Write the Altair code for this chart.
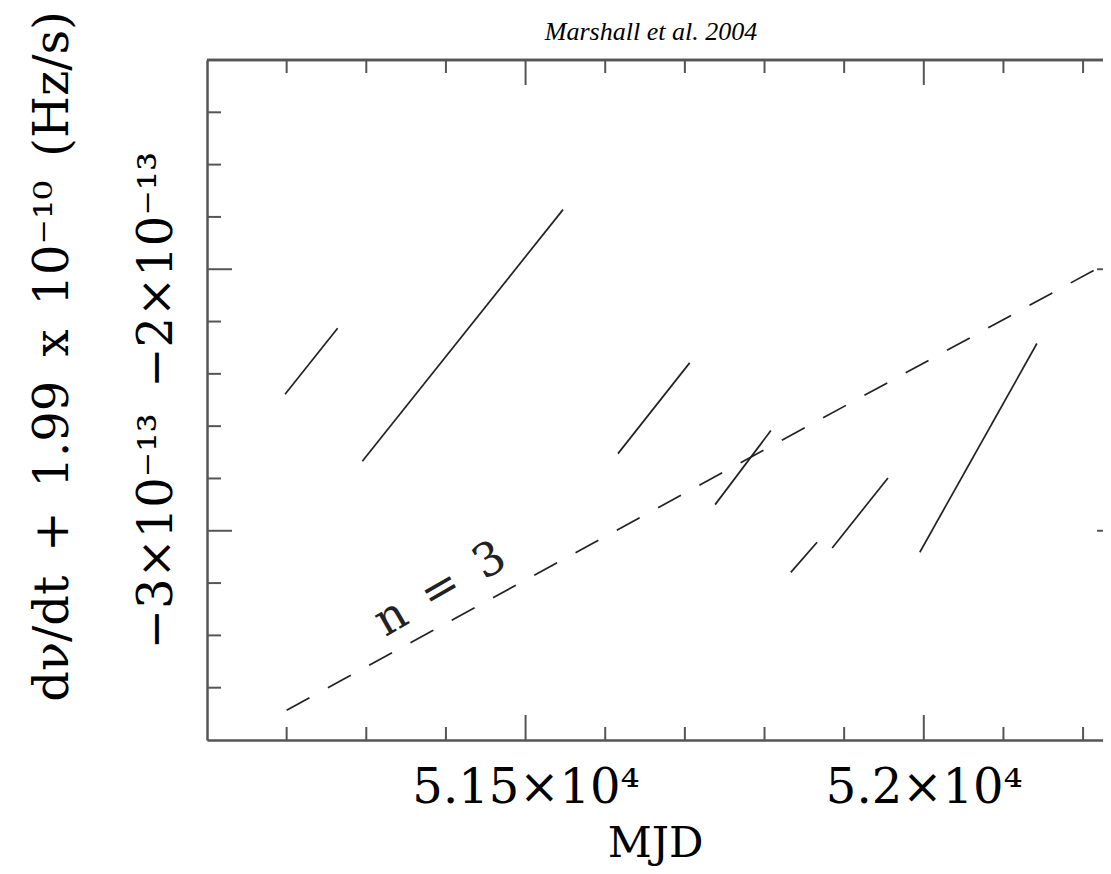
import altair as alt
import pandas as pd

# ---- data (values of the y quantity in units of 1e-13 Hz/s) ----
seg_start_mjd = [51198, 51295, 51616, 51738, 51833, 51885, 51995]
seg_end_mjd = [51264, 51547, 51706, 51808, 51866, 51955, 52142]
seg_start_val = [-2.478, -2.734, -2.705, -2.900, -3.159, -3.066, -3.082]
seg_end_val = [-2.226, -1.772, -2.358, -2.617, -3.044, -2.798, -2.284]

n3_mjd = [51200, 52225]
n3_val = [-3.686, -1.985]

label_mjd = [51393]
label_val = [-3.224]
label_text = ["n\u2002=\u20023"]

title_text = ["Marshall et al. 2004"]

x_major = [51500, 52000]
x_minor = [51200, 51300, 51400, 51600, 51700, 51800, 51900, 52100, 52200]
y_major = [-3.0, -2.0]
y_minor = [-3.6, -3.4, -3.2, -2.8, -2.6, -2.4, -2.2, -1.8, -1.6, -1.4]

x_labels = ["5.15×10⁴", "5.2×10⁴"]
y_labels = ["−3×10⁻¹³", "−2×10⁻¹³"]

rows = []
for i in range(len(seg_start_mjd)):
    rows.append({"seg": i, "mjd": seg_start_mjd[i], "val": seg_start_val[i]})
    rows.append({"seg": i, "mjd": seg_end_mjd[i], "val": seg_end_val[i]})
seg_df = pd.DataFrame(rows)
n3_df = pd.DataFrame({"mjd": n3_mjd, "val": n3_val})
lab_df = pd.DataFrame({"mjd": label_mjd, "val": label_val, "t": label_text})
title_df = pd.DataFrame({"t": title_text})
xmaj_df = pd.DataFrame({"mjd": x_major})
xmin_df = pd.DataFrame({"mjd": x_minor})
ymaj_df = pd.DataFrame({"val": y_major})
ymin_df = pd.DataFrame({"val": y_minor})

W, H = 896, 680
FRAME = "#555555"
SERIF = "DejaVu Serif"

xs = alt.Scale(domain=[51100, 52225], nice=False, zero=False)
ys = alt.Scale(domain=[-3.8, -1.2], nice=False, zero=False)

x_expr = "datum.value == 51500 ? '%s' : '%s'" % (x_labels[0], x_labels[1])
y_expr = "datum.value == -3 ? '%s' : '%s'" % (y_labels[0], y_labels[1])

x_axis = alt.Axis(
    values=x_major, labelExpr=x_expr, ticks=False, grid=False,
    domain=True, domainColor=FRAME, domainWidth=2.5,
    labelFont=SERIF, labelFontSize=48, labelColor="black",
    labelBaseline="alphabetic", labelAlign="center", labelPadding=62,
    labelFlush=False, labelOverlap=False, labelLimit=0,
    title="MJD", titleFont=SERIF, titleFontSize=43, titleFontWeight="normal",
    titleColor="black", titleBaseline="alphabetic", titleY=116, titleLimit=0,
)
y_axis = alt.Axis(
    values=y_major, labelExpr=y_expr, ticks=False, grid=False,
    domain=True, domainColor=FRAME, domainWidth=2.5,
    labelFont=SERIF, labelFontSize=48, labelColor="black",
    labelAngle=270, labelBaseline="alphabetic", labelAlign="center",
    labelPadding=36, labelFlush=False, labelOverlap=False, labelLimit=0,
    title="dν/dt\u2002+\u20021.99\u2002x\u200210⁻¹⁰\u2002(Hz/s)",
    titleFont=SERIF, titleFontSize=48, titleFontWeight="normal",
    titleColor="black", titleAngle=270, titleBaseline="alphabetic",
    titleAlign="center", titleX=-140, titleY=296, titleLimit=0,
)

X = alt.X("mjd:Q", scale=xs, axis=x_axis)
Y = alt.Y("val:Q", scale=ys, axis=y_axis)

segs = alt.Chart(seg_df).mark_line(color="#222222", strokeWidth=1.7).encode(
    x=X, y=Y, detail="seg:N",
)

n3 = alt.Chart(n3_df).mark_line(color="#222222", strokeWidth=1.7, strokeDash=[26, 21]).encode(
    x=X, y=Y,
)

lab = alt.Chart(lab_df).mark_text(
    font=SERIF, fontSize=46, color="#222222", angle=330, align="center", baseline="middle"
).encode(x=X, y=Y, text="t:N")

title = alt.Chart(title_df).mark_text(
    font="Liberation Serif", fontStyle="italic", fontSize=26, color="black",
    align="center", baseline="alphabetic",
).encode(x=alt.value(444), y=alt.value(-20), text="t:N")

top_frame = alt.Chart(xmaj_df).mark_rule(color=FRAME, strokeWidth=2.5).encode(
    x=alt.value(0), x2=alt.value(W), y=alt.value(0)
)

def xticks(df, y0, y1):
    return alt.Chart(df).mark_rule(color=FRAME, strokeWidth=2).encode(
        x=X, y=alt.value(y0), y2=alt.value(y1)
    )

def yticks(df, x0, x1):
    return alt.Chart(df).mark_rule(color=FRAME, strokeWidth=2).encode(
        y=Y, x=alt.value(x0), x2=alt.value(x1)
    )

ticks = [
    xticks(xmaj_df, H, H - 25), xticks(xmin_df, H, H - 13),
    xticks(xmaj_df, 0, 25), xticks(xmin_df, 0, 13),
    yticks(ymaj_df, 0, 25), yticks(ymin_df, 0, 14),
    yticks(ymaj_df, W - 6, W),
]

chart = alt.layer(segs, n3, lab, title, top_frame, *ticks).properties(
    width=W, height=H,
    autosize=alt.AutoSizeParams(type="none"),
    padding={"left": 199, "top": 52, "right": 0, "bottom": 126},
).configure_view(stroke=None)

chart.save("out.html", embed_options={"renderer": "svg", "actions": False})
